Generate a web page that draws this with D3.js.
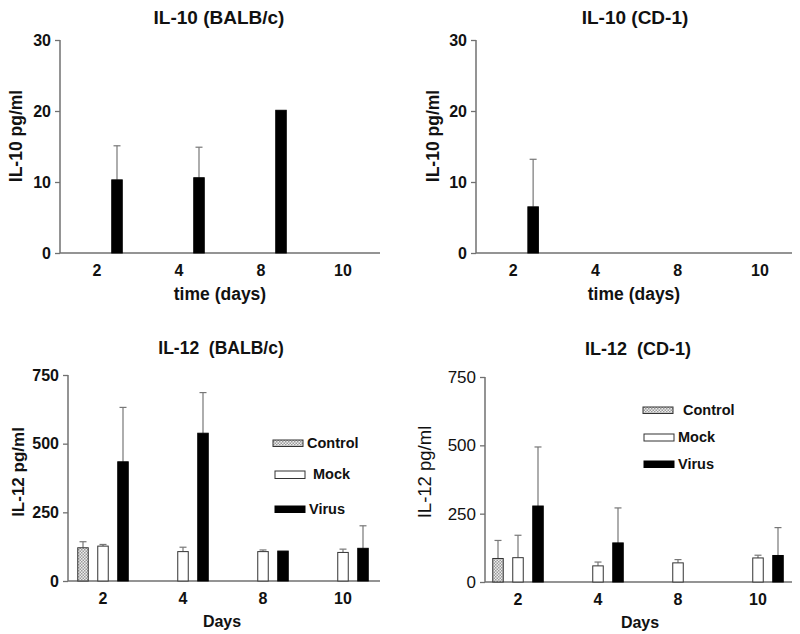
<!DOCTYPE html>
<html><head><meta charset="utf-8">
<script src="https://cdn.jsdelivr.net/npm/d3@7/dist/d3.min.js"></script>
<style>
body{margin:0;background:#fff;}
svg{display:block;font-family:"Liberation Sans",Arial,sans-serif;}
</style></head>
<body><svg id="c" width="800" height="634"></svg>
<script>
// ---- data ----
const days = ["2", "4", "8", "10"];
const seriesNames = ["Control", "Mock", "Virus"];
const il10TickValues = [0, 10, 20, 30];
const il12TickValues = [0, 250, 500, 750];

const il10BalbVirus = [10.3, 10.6, 20.1, null];
const il10BalbVirusErr = [4.8, 4.3, 0, null];
const il10Cd1Virus = [6.5, null, null, null];
const il10Cd1VirusErr = [6.7, null, null, null];

const il12BalbControl = [121, null, null, null];
const il12BalbControlErr = [22, null, null, null];
const il12BalbMock = [127, 107, 107, 104];
const il12BalbMockErr = [6, 16, 6, 12];
const il12BalbVirus = [434, 538, 109, 119];
const il12BalbVirusErr = [198, 148, 0, 82];

const il12Cd1Control = [86, null, null, null];
const il12Cd1ControlErr = [66, null, null, null];
const il12Cd1Mock = [89, 59, 70, 88];
const il12Cd1MockErr = [82, 14, 12, 10];
const il12Cd1Virus = [278, 143, null, 97];
const il12Cd1VirusErr = [216, 128, 0, 102];

const svg = d3.select("#c");
const defs = svg.append("defs");
const pat = defs.append("pattern").attr("id", "chk").attr("patternUnits", "userSpaceOnUse")
  .attr("width", 3).attr("height", 3);
pat.append("rect").attr("width", 3).attr("height", 3).attr("fill", "#eeeeee");
pat.append("rect").attr("width", 1.5).attr("height", 1.5).attr("fill", "#999");
pat.append("rect").attr("x", 1.5).attr("y", 1.5).attr("width", 1.5).attr("height", 1.5).attr("fill", "#999");

const styles = {
  Control: {fill: "url(#chk)", stroke: "#333"},
  Mock: {fill: "#fff", stroke: "#333"},
  Virus: {fill: "#000", stroke: "#000"}
};
const offsets = {Control: -20, Mock: 0, Virus: 20};
const FONT = "\"Liberation Sans\",Arial,sans-serif";
const AX = "#707070";

function panel(cfg) {
  const g = svg.append("g");
  const x = d3.scaleBand().domain(days).range(cfg.xr);
  const y = d3.scaleLinear().domain([0, cfg.ymax]).range(cfg.yr);
  // y axis
  const ya = d3.axisLeft(y).tickValues(cfg.ticks).tickSize(5).tickPadding(4);
  const yg = g.append("g").attr("transform", `translate(${cfg.ax0},0)`).call(ya);
  yg.select(".domain").remove();
  yg.selectAll(".tick line").attr("stroke", AX).attr("stroke-width", 1.3);
  yg.selectAll(".tick text").attr("font-family", FONT).attr("font-size", cfg.yTickSize)
    .attr("font-weight", cfg.yTickWeight).attr("fill", "#111");
  g.append("line").attr("x1", cfg.ax0).attr("x2", cfg.ax0).attr("y1", cfg.yr[1]).attr("y2", cfg.yr[0])
    .attr("stroke", AX).attr("stroke-width", 1.5);
  // x axis
  const xa = d3.axisBottom(x).tickSize(0).tickPadding(12);
  const xg = g.append("g").attr("transform", `translate(0,${cfg.yr[0]})`).call(xa);
  xg.select(".domain").remove();
  xg.selectAll(".tick text").attr("font-family", FONT).attr("font-size", 16)
    .attr("font-weight", "bold").attr("fill", "#111");
  g.append("line").attr("x1", cfg.ax0).attr("x2", cfg.ax1).attr("y1", cfg.yr[0]).attr("y2", cfg.yr[0])
    .attr("stroke", AX).attr("stroke-width", 1.5);
  // bars
  const bw = 10.5;
  cfg.series.forEach(s => {
    const st = styles[s.name];
    const data = days.map((d, i) => ({d, v: s.values[i], e: s.err[i]})).filter(o => o.v != null);
    const cx = o => x(o.d) + x.bandwidth() / 2 + offsets[s.name];
    // error bars
    data.filter(o => o.e > 0).forEach(o => {
      g.append("line").attr("x1", cx(o)).attr("x2", cx(o)).attr("y1", y(o.v)).attr("y2", y(o.v + o.e))
        .attr("stroke", "#777").attr("stroke-width", 1.2);
      g.append("line").attr("x1", cx(o) - 3.5).attr("x2", cx(o) + 3.5).attr("y1", y(o.v + o.e)).attr("y2", y(o.v + o.e))
        .attr("stroke", "#777").attr("stroke-width", 1.2);
    });
    g.selectAll(null).data(data).enter().append("rect")
      .attr("x", o => cx(o) - bw / 2).attr("width", bw)
      .attr("y", o => y(o.v)).attr("height", o => y(0) - y(o.v))
      .attr("fill", st.fill).attr("stroke", st.stroke).attr("stroke-width", 1);
  });
  // titles
  g.append("text").attr("x", cfg.title[1]).attr("y", cfg.title[2]).attr("text-anchor", "middle")
    .attr("font-family", FONT).attr("font-size", cfg.title[3]).attr("font-weight", cfg.title[4])
    .attr("fill", "#111").attr("xml:space", "preserve").style("white-space", "pre").text(cfg.title[0]);
  g.append("text").attr("x", cfg.xl[1]).attr("y", cfg.xl[2]).attr("text-anchor", "middle")
    .attr("font-family", FONT).attr("font-size", cfg.xl[3]).attr("font-weight", "bold")
    .attr("fill", "#111").text(cfg.xl[0]);
  g.append("text").attr("transform", `translate(${cfg.yl[1]},${cfg.yl[2]}) rotate(-90)`)
    .attr("text-anchor", "middle").attr("font-family", FONT).attr("font-size", cfg.yl[3])
    .attr("font-weight", cfg.yl[4]).attr("fill", "#111").text(cfg.yl[0]);
  // legend
  if (cfg.legend) {
    cfg.legend.forEach((L, i) => {
      const st = styles[seriesNames[i]];
      g.append("rect").attr("x", L[0]).attr("y", L[1]).attr("width", L[2]).attr("height", L[3])
        .attr("fill", st.fill).attr("stroke", st.stroke).attr("stroke-width", 1);
      g.append("text").attr("x", L[4]).attr("y", L[5]).attr("font-family", FONT).attr("font-size", 14.5)
        .attr("font-weight", "bold").attr("fill", "#111").text(seriesNames[i]);
    });
  }
}

panel({
  xr: [56, 384], yr: [253, 40], ymax: 30, ticks: il10TickValues, ax0: 60, ax1: 380,
  yTickSize: 16, yTickWeight: "bold",
  series: [{name: "Virus", values: il10BalbVirus, err: il10BalbVirusErr}],
  title: ["IL-10 (BALB/c)", 219, 24, 19, "bold"],
  xl: ["time (days)", 220, 300, 17.5],
  yl: ["IL-10 pg/ml", 22, 136, 17.5, "bold"]
});
panel({
  xr: [472, 801], yr: [253, 40], ymax: 30, ticks: il10TickValues, ax0: 476, ax1: 792,
  yTickSize: 16, yTickWeight: "bold",
  series: [{name: "Virus", values: il10Cd1Virus, err: il10Cd1VirusErr}],
  title: ["IL-10 (CD-1)", 635, 24, 19, "bold"],
  xl: ["time (days)", 634, 300, 17.5],
  yl: ["IL-10 pg/ml", 439, 136, 17.5, "bold"]
});
panel({
  xr: [63, 383], yr: [581, 375], ymax: 750, ticks: il12TickValues, ax0: 68, ax1: 380,
  yTickSize: 16, yTickWeight: "bold",
  series: [
    {name: "Control", values: il12BalbControl, err: il12BalbControlErr},
    {name: "Mock", values: il12BalbMock, err: il12BalbMockErr},
    {name: "Virus", values: il12BalbVirus, err: il12BalbVirusErr}],
  title: ["IL-12  (BALB/c)", 221, 354, 17.5, "bold"],
  xl: ["Days", 222, 627, 16],
  yl: ["IL-12 pg/ml", 24, 472, 17, "bold"],
  legend: [[273, 440, 30, 6.5, 307, 448], [275, 471, 30, 7.5, 313, 479], [275, 506, 30, 6.5, 309, 514]]
});
panel({
  xr: [478, 798], yr: [582, 377], ymax: 750, ticks: il12TickValues, ax0: 485, ax1: 792,
  yTickSize: 17, yTickWeight: "normal",
  series: [
    {name: "Control", values: il12Cd1Control, err: il12Cd1ControlErr},
    {name: "Mock", values: il12Cd1Mock, err: il12Cd1MockErr},
    {name: "Virus", values: il12Cd1Virus, err: il12Cd1VirusErr}],
  title: ["IL-12  (CD-1)", 638, 355, 18, "bold"],
  xl: ["Days", 640, 628, 16],
  yl: ["IL-12 pg/ml", 431, 472, 18.5, "normal"],
  legend: [[643, 407, 30, 6.5, 683, 415], [644, 434, 30, 7, 678, 442], [644, 461, 30, 6.5, 678, 469]]
});
</script></body></html>
